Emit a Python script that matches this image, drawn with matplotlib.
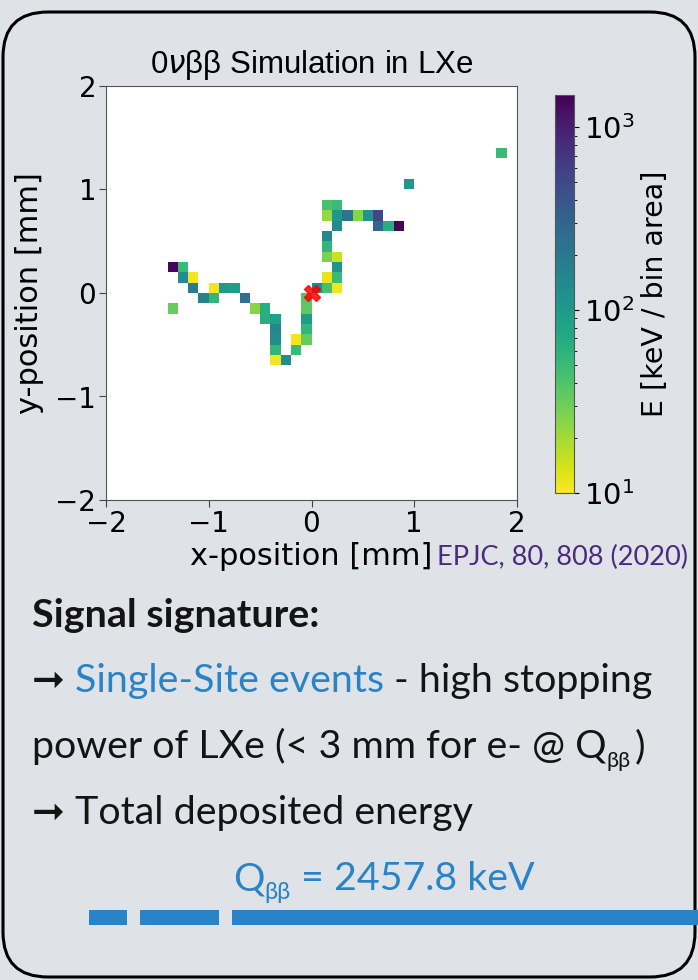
import numpy as np
import matplotlib
matplotlib.use('Agg')
from matplotlib import pyplot as plt
from matplotlib.colors import LogNorm
from matplotlib.patches import FancyBboxPatch, Rectangle

# energy deposits of the simulated track, one entry per 0.1 mm bin centre
x_mm = [-1.35, -1.25, -1.25, -1.15, -1.15, -0.95, -0.85, -0.75, -1.05, -0.95,
        -0.65, -1.35, -0.55, -0.45, -0.45, -0.35, -0.35, -0.35, -0.35, -0.35,
        -0.25, -0.15, -0.15, -0.05, -0.05, -0.05, -0.05, -0.05, 0.05, 0.15,
        0.25, 0.15, 0.25, 0.25, 0.25, 0.15, 0.15, 0.15, 0.25, 0.15,
        0.15, 0.25, 0.25, 0.35, 0.45, 0.55, 0.65, 0.65, 0.75, 0.85,
        0.95, 1.85]
y_mm = [0.25, 0.25, 0.15, 0.15, 0.05, 0.05, 0.05, 0.05, -0.05, -0.05,
        -0.05, -0.15, -0.15, -0.15, -0.25, -0.25, -0.35, -0.45, -0.55, -0.65,
        -0.65, -0.55, -0.45, -0.45, -0.35, -0.25, -0.15, -0.05, 0.05, 0.05,
        0.05, 0.15, 0.15, 0.25, 0.35, 0.35, 0.45, 0.55, 0.65, 0.75,
        0.85, 0.85, 0.75, 0.75, 0.75, 0.75, 0.75, 0.65, 0.65, 0.65,
        1.05, 1.35]
e_kev = [1400, 50, 140, 11, 190, 11, 100, 90, 170, 55,
         230, 32, 25, 65, 65, 85, 150, 140, 55, 11,
         130, 50, 11, 33, 55, 95, 35, 38, 150, 45,
         11, 12, 50, 110, 15, 27, 55, 150, 140, 22,
         42, 50, 105, 210, 25, 110, 520, 300, 68, 1400,
         105, 50]
vertex = (0.0, 0.0)

bin_edges = np.linspace(-2, 2, 41)
axis_ticks = [-2, -1, 0, 1, 2]

bg = '#dfe2e6'
blue = '#2883c7'
FAM = ['Lato', 'DejaVu Sans']
plt.rcParams['font.family'] = 'DejaVu Sans'

W, H = 698, 980
fig = plt.figure(figsize=(W/100, H/100), dpi=100)
fig.patch.set_facecolor(bg)

#rounded frame round the whole slide panel
frame = FancyBboxPatch((0.03, 0.03), 6.92, 9.65, boxstyle='round,pad=0,rounding_size=0.45',
                       transform=fig.dpi_scale_trans, facecolor='none', edgecolor='black', lw=2.2)
fig.add_artist(frame)

ax = fig.add_axes([106/W, 1-500/H, 411/W, 414/H])
hist, _, _ = np.histogram2d(x_mm, y_mm, bins=[bin_edges, bin_edges], weights=e_kev)
hist = np.ma.masked_equal(hist, 0)
mesh = ax.pcolormesh(bin_edges, bin_edges, hist.T, cmap='viridis_r', norm=LogNorm(vmin=10, vmax=1500))
ax.plot(vertex[0], vertex[1], marker='X', color='red', ms=12, ls='none', alpha=0.85)

ax.set_xlim(-2, 2)
ax.set_ylim(-2, 2)
ax.set_xticks(axis_ticks)
ax.set_yticks(axis_ticks)
ax.tick_params(labelsize=20, length=5, color='#444444', pad=2)
for s in ax.spines.values():
	s.set_color('#555555')
ax.set_title(r'0$\nu$ββ Simulation in LXe', fontsize=22.5, pad=9.5, family='Liberation Sans')
ax.set_xlabel('x-position [mm]', fontsize=22, labelpad=3)
ax.set_ylabel('y-position [mm]', fontsize=22, labelpad=8)

cax = fig.add_axes([555/W, 1-493/H, 19/W, 398/H])
cb = fig.colorbar(mesh, cax=cax)
cb.set_label('E [keV / bin area]', fontsize=20.5, labelpad=5)
cb.ax.tick_params(labelsize=21)
cb.outline.set_edgecolor('#555555')

fig.text(437/W, 1-565/H, 'EPJC, 80, 808 (2020)', fontsize=19.5, color='#4b2a7f', family=FAM)

#text block under the plot, pieces are placed one after another on a baseline
fig.canvas.draw()
r = fig.canvas.get_renderer()

def text_w(s, size, weight='normal'):
	t = fig.text(0, 0, s, fontsize=size, family=FAM, weight=weight)
	w = t.get_window_extent(r).width
	t.remove()
	return w

def place_line(x_px, y_px, pieces, size, weight='normal'):
	gap = text_w('a a', size, weight) - text_w('aa', size, weight)
	x = x_px
	for s, c, scale, dy, g in pieces:
		t = fig.text(x/W, 1-(y_px+dy)/H, s, color=c, fontsize=size*scale, family=FAM,
		             weight=weight, va='baseline')
		x = x + t.get_window_extent(r).width + g*gap

tsize = 28.4
ink = '#141414'
place_line(32, 627, [('Signal signature:', ink, 1, 0, 0)], tsize, 'bold')
place_line(32, 692, [('➞', ink, 1, 0, 1), ('Single-Site events', blue, 1, 0, 1),
                     ('- high stopping', ink, 1, 0, 0)], tsize)
place_line(32, 758, [('power of LXe (< 3 mm for e- @ Q', ink, 1, 0, 0),
                     ('ββ', ink, 0.55, 9, 0.4), (')', ink, 1, 0, 0)], tsize)
place_line(32, 824, [('➞', ink, 1, 0, 1), ('Total deposited energy', ink, 1, 0, 0)], tsize)
place_line(233, 890, [('Q', blue, 1, 0, 0), ('ββ', blue, 0.6, 9, 1), ('= 2457.8 keV', blue, 1, 0, 0)], tsize)

#blue dashed separator
for x0, x1 in [(89, 127), (140, 219), (232, 698)]:
	fig.add_artist(Rectangle((x0/W, 1-925/H), (x1-x0)/W, 15/H, transform=fig.transFigure,
	                         facecolor=blue, edgecolor='none'))

plt.savefig('out.png', dpi=100, facecolor=bg)
